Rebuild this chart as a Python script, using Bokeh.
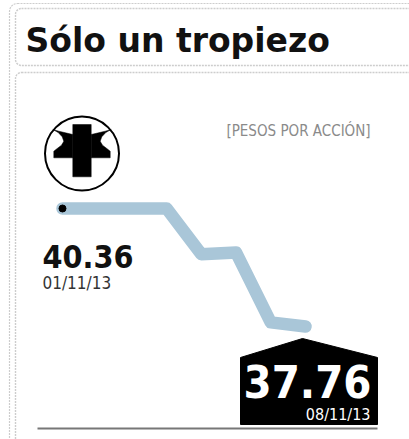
from bokeh.plotting import figure
from bokeh.models import Range1d, BoxAnnotation, Label, ColumnDataSource
from bokeh.core.properties import value
from bokeh.embed import file_html
from bokeh.resources import INLINE

# ---- data ----
title = "Sólo un tropiezo"
unit_label = "[PESOS POR ACCIÓN]"
days = [1, 4, 5, 6, 7, 8]            # November 2013, trading days
dates = ["01/11/13", "04/11/13", "05/11/13", "06/11/13", "07/11/13", "08/11/13"]
prices = [40.36, 40.36, 39.35, 39.39, 37.85, 37.76]

W, H = 409, 439

p = figure(width=W, height=H, x_range=Range1d(0, W), y_range=Range1d(H, 0),
           output_backend="svg", toolbar_location=None, min_border=0,
           x_axis_location=None, y_axis_location=None)
p.grid.visible = False
p.outline_line_color = None
p.background_fill_color = "white"
p.border_fill_color = "white"
p.extra_x_ranges = {"days": Range1d(-0.786, 10.996)}
p.extra_y_ranges = {"price": Range1d(35.270, 44.943)}

border = "#5a5a5a"
# outer frame, title box and panel box (dotted)
p.add_layout(BoxAnnotation(left=9, right=430, top=3, bottom=470,
                           fill_color=None, line_color=border, line_dash="2 1",
                           line_width=1.2, border_radius=8))
p.add_layout(BoxAnnotation(left=15, right=430, top=8, bottom=65,
                           fill_color=None, line_color=border, line_dash="2 1",
                           line_width=1.4, border_radius=6))
p.add_layout(BoxAnnotation(left=15, right=430, top=72, bottom=470,
                           fill_color=None, line_color=border, line_dash="2 1",
                           line_width=1.4, border_radius=6))

p.add_layout(Label(x=25, y=40, text=title, text_font="DejaVu Sans",
                   text_font_style="bold", text_font_size="33px", text_color="#111111",
                   text_baseline="alphabetic", text_align="left"))

# logo
p.circle([81.5], [153], radius=37, fill_color="white", line_color="black", line_width=2)
left_piece = [(52.3, 129), (58.3, 130.7), (65, 132.3), (72.3, 134), (72.3, 157.3), (53.3, 157.3),
              (53.3, 150.7), (56.7, 148), (61, 144.7), (63.3, 140.7), (61.7, 136.3), (57.7, 132)]
lx = [a for a, b in left_piece]
ly = [b for a, b in left_piece]
rx = [163 - a for a, b in left_piece]
bx = [72.3, 90.7, 90.7, 72.3]
byy = [124, 124, 176.3, 176.3]
p.patches([lx, rx, bx], [ly, ly, byy], fill_color="black", line_color="black", line_width=0.5)

p.add_layout(Label(x=298, y=130, text=unit_label, text_font="DejaVu Sans Condensed",
                   text_font_size="15px", text_color="#8a8a8a",
                   text_baseline="middle", text_align="center"))

# price line
src = ColumnDataSource(dict(day=days, price=prices))
p.line("day", "price", source=src, x_range_name="days", y_range_name="price",
       line_color="#a9c6d8", line_width=12.5, line_join="round", line_cap="round")
p.scatter([days[0]], [prices[0]], x_range_name="days", y_range_name="price",
          size=7, color="black")

# baseline
p.line([37, 377], [428, 428], line_color="#777777", line_width=2)

# last value box (house shape)
p.patch([240, 302, 377, 377, 240], [357, 338, 357, 424, 424],
        fill_color="black", line_color="black")

# first value labels
p.text([days[0]], [prices[0]], text=[f"{prices[0]:.2f}"], x_range_name="days", y_range_name="price",
       x_offset=-20, y_offset=48, text_font=value("DejaVu Sans Condensed"), text_font_style="bold",
       text_font_size="32px", text_color="#111111", text_baseline="alphabetic", text_align="left")
p.text([days[0]], [prices[0]], text=[dates[0]], x_range_name="days", y_range_name="price",
       x_offset=-20, y_offset=75, text_font=value("DejaVu Sans Condensed"),
       text_font_size="17px", text_color="#333333", text_baseline="alphabetic", text_align="left")
# last value labels
p.text([days[-1]], [prices[-1]], text=[f"{prices[-1]:.2f}"], x_range_name="days", y_range_name="price",
       x_offset=2, y_offset=55, text_font=value("DejaVu Sans Condensed"), text_font_style="bold",
       text_font_size="45px", text_color="white", text_baseline="alphabetic", text_align="center")
p.text([days[-1]], [prices[-1]], text=[dates[-1]], x_range_name="days", y_range_name="price",
       x_offset=65, y_offset=88, text_font=value("DejaVu Sans Condensed"),
       text_font_size="16px", text_color="white", text_baseline="alphabetic", text_align="right")

open("out.html", "w").write(file_html(p, INLINE))
